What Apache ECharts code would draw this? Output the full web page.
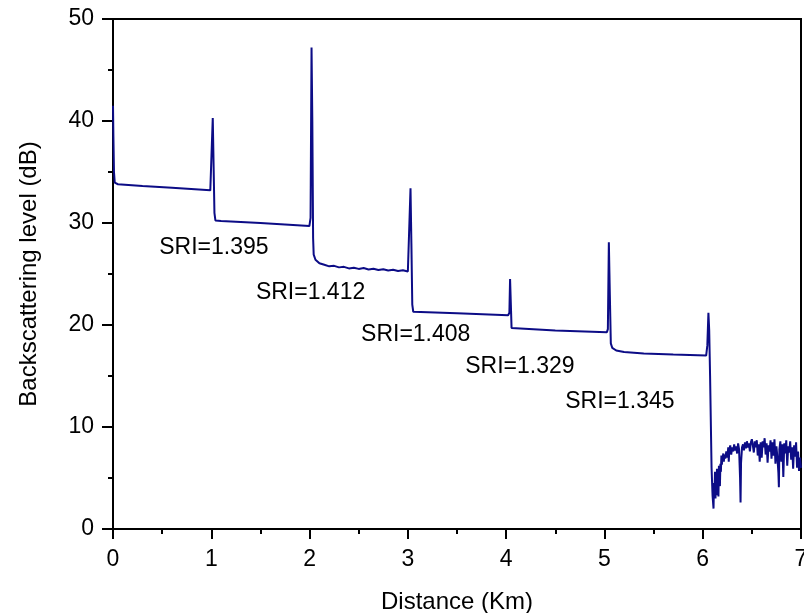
<!DOCTYPE html>
<html>
<head>
<meta charset="utf-8">
<script src="https://cdn.jsdelivr.net/npm/echarts@6/dist/echarts.min.js"></script>
<style>
  html, body { margin: 0; padding: 0; background: #fff; }
  #chart { width: 804px; height: 613px; }
</style>
</head>
<body>
<div id="chart"></div>
<script>
// OTDR trace, distance (km) vs backscattering level (dB)
var trace = [
    [0, 41.5], [0.004, 38.5], [0.01, 35], [0.018, 33.95], [0.05, 33.8], [0.3, 33.62], [0.6, 33.45], [0.99, 33.2],
    [1.005, 33.3], [1.015, 40.3], [1.022, 36.5], [1.032, 31], [1.042, 30.25], [1.1, 30.2], [1.5, 30.0], [1.998, 29.7],
    [2.01, 30.5], [2.02, 47.2], [2.028, 40], [2.036, 28.5], [2.042, 26.9], [2.06, 26.4], [2.1, 26.05], [2.15, 25.9],
    [2.2, 25.75], [2.25, 25.8], [2.3, 25.65], [2.35, 25.7], [2.4, 25.55], [2.45, 25.62], [2.5, 25.5], [2.55, 25.58],
    [2.6, 25.45], [2.65, 25.52], [2.7, 25.4], [2.75, 25.47], [2.8, 25.35], [2.85, 25.42], [2.9, 25.3], [2.95, 25.36],
    [3.0, 25.25], [3.015, 25.4], [3.027, 33.4], [3.036, 28], [3.045, 22], [3.055, 21.3], [3.5, 21.15], [4.02, 20.95],
    [4.033, 21.2], [4.04, 24.5], [4.048, 22], [4.055, 19.7], [4.07, 19.6], [4.5, 19.45], [5.025, 19.3],
    [5.035, 19.6], [5.045, 28.1], [5.055, 23], [5.065, 18.2], [5.08, 17.75], [5.12, 17.5], [5.2, 17.35], [5.4, 17.2],
    [5.7, 17.1], [6.035, 17.0], [6.047, 18], [6.058, 21.2], [6.066, 19.5], [6.075, 15], [6.09, 6],
    [6.1, 3.3], [6.11, 2.0], [6.115, 4.5], [6.12, 3.4], [6.125, 5.6], [6.13, 3.0], [6.135, 4.8], [6.14, 3.3],
    [6.145, 5.9], [6.15, 3.6], [6.155, 5.2], [6.16, 3.2], [6.165, 6.2], [6.17, 5.0], [6.175, 4.2], [6.18, 6.4],
    [6.185, 5.6], [6.19, 7.2], [6.195, 6.3], [6.2, 6.9], [6.21, 7.4], [6.215, 6.6], [6.22, 7.3], [6.23, 6.9],
    [6.24, 7.6], [6.25, 7.0], [6.26, 8.0], [6.265, 6.6], [6.27, 7.7], [6.28, 8.2], [6.29, 7.3], [6.3, 8.0],
    [6.31, 7.6], [6.32, 8.3], [6.33, 7.7], [6.34, 8.1], [6.35, 7.4], [6.36, 8.4], [6.37, 7.8], [6.38, 5.0],
    [6.385, 2.6], [6.39, 6.5], [6.4, 8.0], [6.41, 8.3], [6.42, 7.7], [6.43, 8.5], [6.44, 7.9], [6.45, 8.6],
    [6.46, 8.0], [6.47, 8.4], [6.48, 7.6], [6.49, 8.5], [6.5, 8.8], [6.51, 8.2], [6.52, 7.5], [6.53, 8.6],
    [6.54, 8.0], [6.55, 8.7], [6.56, 7.2], [6.57, 8.3], [6.58, 6.6], [6.59, 8.5], [6.6, 7.0], [6.61, 8.6],
    [6.62, 8.0], [6.63, 8.9], [6.64, 7.3], [6.65, 8.4], [6.66, 6.5], [6.67, 8.2], [6.68, 7.6], [6.69, 8.7],
    [6.7, 6.9], [6.71, 8.5], [6.72, 7.2], [6.73, 8.8], [6.74, 6.4], [6.75, 8.1], [6.76, 7.0], [6.77, 5.5],
    [6.775, 4.1], [6.78, 7.8], [6.79, 8.6], [6.8, 6.6], [6.81, 8.3], [6.82, 5.1], [6.83, 8.4], [6.84, 7.4],
    [6.85, 8.7], [6.86, 6.2], [6.87, 8.1], [6.88, 7.5], [6.89, 8.6], [6.9, 6.8], [6.91, 8.0], [6.92, 5.9],
    [6.93, 8.2], [6.94, 7.1], [6.95, 8.5], [6.96, 6.0], [6.97, 7.6], [6.98, 5.7], [6.99, 7.0], [7.0, 6.0]
];

// segment annotations and where they sit (km, dB)
var sriText = ['SRI=1.395', 'SRI=1.412', 'SRI=1.408', 'SRI=1.329', 'SRI=1.345'];
var sriAt = [[1.026, 27.6], [2.01, 23.2], [3.08, 19.06], [4.14, 15.9], [5.157, 12.5]];

var xTicks = [0, 1, 2, 3, 4, 5, 6, 7];
var yTicks = [0, 10, 20, 30, 40, 50];

var font = 'Arial, "Liberation Sans", sans-serif';
var chart = echarts.init(document.getElementById('chart'), null, {renderer: 'canvas'});

var labelData = [];
for (var i = 0; i < sriText.length; i++) {
    labelData.push({name: sriText[i], value: sriAt[i]});
}

var axisLine = {show: true, onZero: false, lineStyle: {color: '#000', width: 2}};

var option = {
    animation: false,
    backgroundColor: '#fff',
    grid: {
        left: 113, right: 3, top: 19, bottom: 84,
        outerBoundsMode: 'none',
        containLabel: false,
        show: true, borderColor: '#000', borderWidth: 2
    },
    xAxis: {
        type: 'value',
        min: xTicks[0], max: xTicks[xTicks.length - 1], interval: 1,
        name: 'Distance (Km)',
        nameLocation: 'middle',
        nameGap: 61,
        nameTextStyle: {fontFamily: font, fontSize: 24, color: '#000'},
        axisLine: axisLine,
        axisTick: {show: true, length: 10, lineStyle: {color: '#000', width: 2}},
        minorTick: {show: true, splitNumber: 2, length: 5, lineStyle: {color: '#000', width: 2}},
        axisLabel: {fontFamily: font, fontSize: 23, color: '#000', margin: 19},
        splitLine: {show: false}
    },
    yAxis: {
        type: 'value',
        min: yTicks[0], max: yTicks[yTicks.length - 1], interval: 10,
        name: 'Backscattering level (dB)',
        nameLocation: 'middle',
        nameGap: 72,
        nameTextStyle: {fontFamily: font, fontSize: 24, color: '#000'},
        axisLine: axisLine,
        axisTick: {show: true, length: 11, lineStyle: {color: '#000', width: 2}},
        minorTick: {show: true, splitNumber: 2, length: 5, lineStyle: {color: '#000', width: 2}},
        axisLabel: {fontFamily: font, fontSize: 23, color: '#000', margin: 19},
        splitLine: {show: false}
    },
    series: [
        {
            type: 'line',
            data: trace,
            showSymbol: false,
            symbol: 'none',
            lineStyle: {color: '#0c0c86', width: 2},
            z: 3
        },
        {
            type: 'scatter',
            data: labelData,
            symbolSize: 0,
            silent: true,
            itemStyle: {color: '#000', opacity: 1},
            label: {
                show: true,
                position: 'inside',
                formatter: '{b}',
                fontFamily: font,
                fontSize: 23,
                color: '#000',
                opacity: 1,
                textBorderWidth: 0,
                textBorderColor: 'transparent'
            },
            z: 4
        }
    ]
};
chart.setOption(option);
</script>
</body>
</html>
